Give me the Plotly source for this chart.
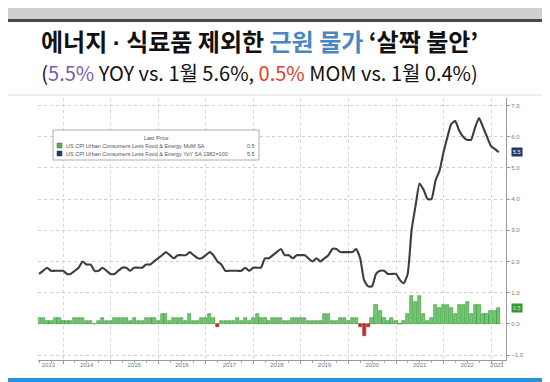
import pandas as pd
import plotly.graph_objects as go

# ---------------- data ----------------
start_month = "2013-06-30"
yoy = [1.6, 1.7, 1.8, 1.7, 1.7, 1.7, 1.7,
       1.6, 1.6, 1.7, 1.8, 2.0, 1.9, 1.9, 1.7, 1.7, 1.8, 1.7, 1.6,
       1.6, 1.7, 1.8, 1.8, 1.7, 1.8, 1.8, 1.8, 1.9, 1.9, 2.0, 2.1,
       2.2, 2.3, 2.2, 2.1, 2.2, 2.2, 2.2, 2.3, 2.2, 2.1, 2.1, 2.2,
       2.3, 2.2, 2.0, 1.9, 1.7, 1.7, 1.7, 1.7, 1.7, 1.8, 1.7, 1.8,
       1.8, 1.8, 2.1, 2.1, 2.2, 2.3, 2.4, 2.2, 2.2, 2.1, 2.2, 2.2,
       2.2, 2.1, 2.0, 2.1, 2.0, 2.1, 2.2, 2.4, 2.4, 2.3, 2.3, 2.3,
       2.3, 2.4, 2.1, 1.4, 1.2, 1.2, 1.6, 1.7, 1.7, 1.6, 1.6, 1.6,
       1.4, 1.3, 1.6, 3.0, 3.8, 4.5, 4.3, 4.0, 4.0, 4.6, 4.9, 5.5,
       6.0, 6.4, 6.5, 6.2, 6.0, 5.9, 5.9, 6.3, 6.6, 6.3, 6.0, 5.7,
       5.6, 5.5]
mom = [0.2, 0.2, 0.1, 0.1, 0.2, 0.2, 0.1,
       0.1, 0.1, 0.2, 0.2, 0.2, 0.1, 0.1, 0.0, 0.1, 0.2, 0.1, 0.1,
       0.2, 0.2, 0.2, 0.2, 0.1, 0.2, 0.1, 0.1, 0.2, 0.2, 0.2, 0.1,
       0.3, 0.3, 0.1, 0.2, 0.2, 0.2, 0.1, 0.3, 0.1, 0.1, 0.2, 0.2,
       0.3, 0.2, -0.1, 0.1, 0.1, 0.1, 0.1, 0.2, 0.1, 0.2, 0.1, 0.2,
       0.3, 0.2, 0.2, 0.1, 0.2, 0.2, 0.2, 0.1, 0.1, 0.2, 0.2, 0.2,
       0.2, 0.1, 0.1, 0.1, 0.1, 0.3, 0.3, 0.1, 0.1, 0.2, 0.2, 0.1,
       0.2, 0.2, -0.1, -0.4, -0.1, 0.2, 0.6, 0.4, 0.2, 0.1, 0.2, 0.1,
       0.0, 0.1, 0.3, 0.9, 0.7, 0.9, 0.3, 0.1, 0.2, 0.6, 0.5, 0.6,
       0.6, 0.5, 0.3, 0.6, 0.6, 0.7, 0.3, 0.6, 0.6, 0.3, 0.3, 0.4,
       0.4, 0.5]
years = [2013, 2014, 2015, 2016, 2017, 2018, 2019, 2020, 2021, 2022, 2023]
year_label_pos = ["2013-09-10"] + [f"{y}-07-01" for y in years[1:-1]] + ["2023-02-15"]
y_ticks = [-1, 0, 1, 2, 3, 4, 5, 6, 7]
name_mom = "US CPI Urban Consumers Less Food & Energy MoM SA"
name_yoy = "US CPI Urban Consumers Less Food & Energy YoY SA 1982=100"

dates = pd.date_range(start=start_month, periods=len(yoy), freq="ME")

# ---------------- geometry helpers (pixel -> paper) ----------------
W, H = 550, 382
ML, MR, MT, MB = 30, 52, 90, 30
PW, PH = W - ML - MR, H - MT - MB


def PX(x):
    return (x - ML) / PW


def PY(y):
    return (H - MB - y) / PH


GREEN = "#74c874"
GREEN_LINE = "#2f8f2f"
RED = "#cc2a2a"
NAVY = "#1f3a6b"

fig = go.Figure()
fig.add_trace(go.Bar(
    x=dates, y=mom,
    width=24 * 86400000,
    marker=dict(color=[GREEN if v >= 0 else RED for v in mom],
                line=dict(color=[GREEN_LINE if v >= 0 else "#a01818" for v in mom], width=0.6)),
    showlegend=False, hoverinfo="skip"))
fig.add_trace(go.Scatter(
    x=dates, y=yoy, mode="lines",
    line=dict(color="#3d3d3d", width=2.1, shape="spline", smoothing=0.5),
    showlegend=False, hoverinfo="skip"))
# invisible trace to carry the label axis
fig.add_trace(go.Scatter(x=dates, y=yoy, xaxis="x2", mode="lines",
                         line=dict(color="rgba(0,0,0,0)"), showlegend=False, hoverinfo="skip"))

x_range = ["2013-06-22", "2023-04-25"]
fig.update_layout(
    width=W, height=H,
    margin=dict(l=ML, r=MR, t=MT, b=MB),
    paper_bgcolor="white", plot_bgcolor="white",
    bargap=0,
    font=dict(family="Liberation Sans, Arial, sans-serif"),
    xaxis=dict(type="date", range=x_range, tick0="2013-01-01", dtick="M12",
               showgrid=True, gridcolor="#d8d8d8", griddash="dot", gridwidth=1,
               showticklabels=False, ticks="outside", ticklen=3, tickcolor="#999",
               showline=True, linecolor="#999", linewidth=1, zeroline=False,
               minor=dict(dtick="M3", tick0="2013-01-01", ticks="outside", ticklen=2,
                          tickcolor="#aaa", showgrid=False)),
    xaxis2=dict(type="date", range=x_range, overlaying="x", anchor="y", side="bottom",
                tickmode="array", tickvals=year_label_pos, ticktext=[str(y) for y in years],
                showgrid=False, ticks="", showline=False, zeroline=False,
                tickfont=dict(size=6, color="#777")),
    yaxis=dict(side="right", range=[-1.16, 7.24], tickvals=y_ticks, tickformat=".1f",
               showgrid=True, gridcolor="#cfcfcf", griddash="dot", gridwidth=1,
               zeroline=False, ticks="outside", ticklen=3, tickcolor="#999",
               showline=True, linecolor="#999", linewidth=1,
               tickfont=dict(size=6, color="#777")),
)

shapes = []
# header grey band and dark rule
shapes.append(dict(type="rect", xref="paper", yref="paper", x0=PX(0), x1=PX(W), y0=PY(0), y1=PY(11),
                   fillcolor="#cfcfcf", line=dict(width=0), layer="below"))
shapes.append(dict(type="rect", xref="paper", yref="paper", x0=PX(0), x1=PX(W), y0=PY(11), y1=PY(14),
                   fillcolor="#4a4a4a", line=dict(width=0), layer="below"))
shapes.append(dict(type="line", xref="paper", yref="paper", x0=PX(0), x1=PX(W), y0=PY(87), y1=PY(87),
                   line=dict(color="#dddddd", width=1)))
# bottom blue band
shapes.append(dict(type="rect", xref="paper", yref="paper", x0=PX(0), x1=PX(W), y0=PY(370), y1=PY(H),
                   fillcolor="#2a8fdc", line=dict(width=0)))
# legend box
shapes.append(dict(type="rect", xref="paper", yref="paper", x0=PX(45), x1=PX(251), y0=PY(122), y1=PY(152),
                   fillcolor="white", line=dict(color="#9a9a9a", width=0.8)))
shapes.append(dict(type="rect", xref="paper", yref="paper", x0=PX(49), x1=PX(54), y0=PY(135), y1=PY(140),
                   fillcolor="#4caf50", line=dict(color="#2f7f2f", width=0.5)))
shapes.append(dict(type="rect", xref="paper", yref="paper", x0=PX(49), x1=PX(54), y0=PY(143), y1=PY(148),
                   fillcolor=NAVY, line=dict(color=NAVY, width=0.5)))
fig.update_layout(shapes=shapes)

DOT = '<span style="font-family:Liberation Sans">·</span>'
title_line = (f'<span style="font-size:24px"><b>에너지 {DOT} 식료품 제외한 '
              f'<span style="color:#4a86c5">근원 물가</span> ‘살짝 불안’</b></span>')
sub_line = (f'<span style="font-size:20px">(<span style="color:#7a5ca8">{yoy[-1]}%</span> YOY vs. 1월 {yoy[-2]}%, '
            f'<span style="color:#e0402a">{mom[-1]}%</span> MOM vs. 1월 {mom[-2]}%)</span>')
ann = []
ann.append(dict(xref="paper", yref="paper", x=PX(251), y=PY(46.5), xanchor="center", yanchor="middle",
                showarrow=False, text=title_line + "<br>" + sub_line,
                font=dict(family="Noto Sans CJK KR", size=23, color="#111")))
# legend texts
ann.append(dict(xref="paper", yref="paper", x=PX(148), y=PY(130), xanchor="center", yanchor="middle",
                showarrow=False, text="Last Price", font=dict(size=5.5, color="#555")))
ann.append(dict(xref="paper", yref="paper", x=PX(56), y=PY(137.5), xanchor="left", yanchor="middle",
                showarrow=False, text=name_mom, font=dict(size=5.5, color="#555")))
ann.append(dict(xref="paper", yref="paper", x=PX(249), y=PY(137.5), xanchor="right", yanchor="middle",
                showarrow=False, text=f"{mom[-1]}", font=dict(size=5.5, color="#555")))
ann.append(dict(xref="paper", yref="paper", x=PX(56), y=PY(145.5), xanchor="left", yanchor="middle",
                showarrow=False, text=name_yoy, font=dict(size=5.5, color="#555")))
ann.append(dict(xref="paper", yref="paper", x=PX(249), y=PY(145.5), xanchor="right", yanchor="middle",
                showarrow=False, text=f"{yoy[-1]}", font=dict(size=5.5, color="#555")))
# last value tags on the right axis
ann.append(dict(xref="paper", yref="y", x=PX(503), y=yoy[-1], xanchor="left", yanchor="middle",
                showarrow=False, text=f"{yoy[-1]}", bgcolor=NAVY, borderpad=1,
                font=dict(size=5.5, color="white")))
ann.append(dict(xref="paper", yref="y", x=PX(503), y=mom[-1], xanchor="left", yanchor="middle",
                showarrow=False, text=f"{mom[-1]}", bgcolor="#2e9a3a", borderpad=1,
                font=dict(size=5.5, color="#c8f0c8")))
fig.update_layout(annotations=ann)

fig.write_html("out.html")
